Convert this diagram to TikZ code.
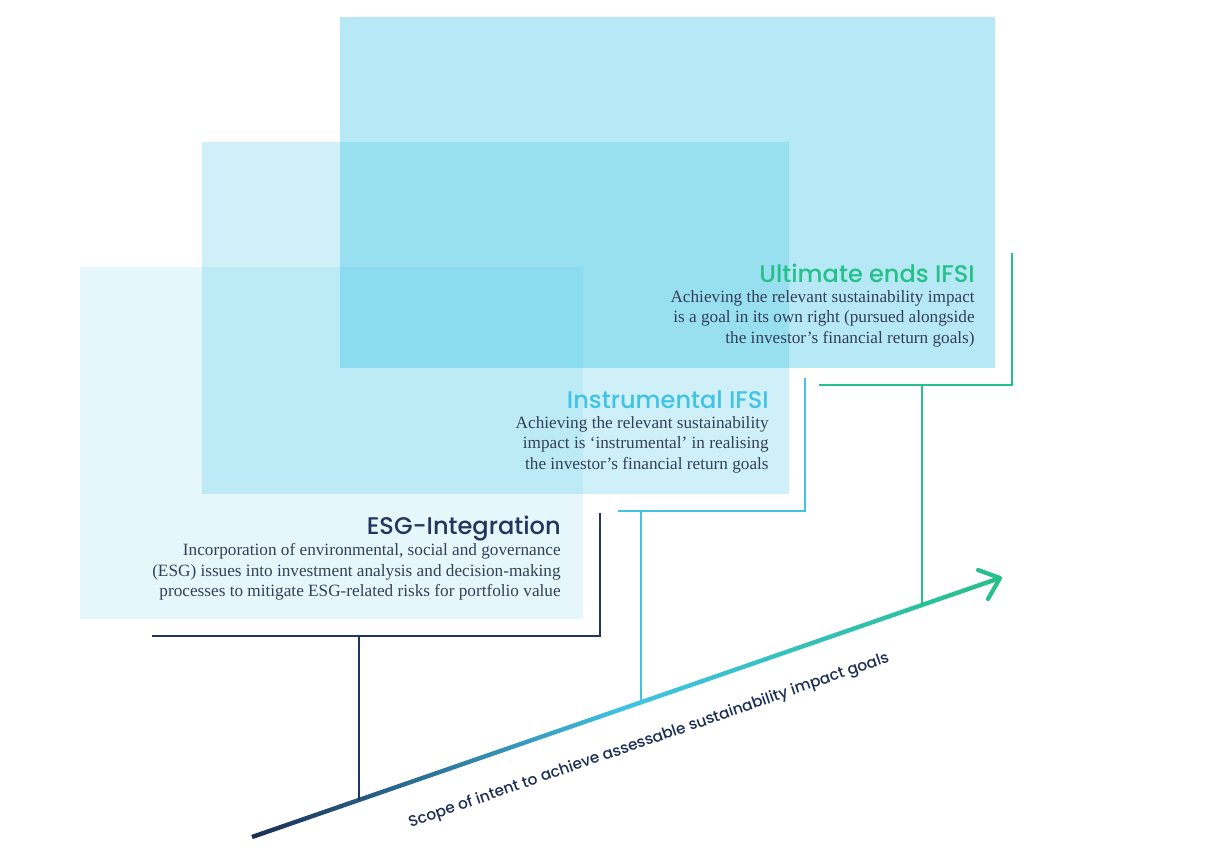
\documentclass[tikz,border=0pt]{standalone}
\usepackage{fontspec}
\setmainfont{Liberation Serif}
\newfontfamily\headfont{Poppins Medium}
\usetikzlibrary{calc}

\definecolor{boxBase}{HTML}{40C4E4}
\definecolor{esgNavy}{HTML}{21355F}
\definecolor{instrBlue}{HTML}{40C3E4}
\definecolor{ultGreen}{HTML}{26C08A}
\definecolor{bodyGray}{HTML}{333F58}
\definecolor{scopeNavy}{HTML}{1C2E55}

\tikzset{
  impactbox/.style={fill=boxBase, draw=none},
  boxtitle/.style={font=\headfont\fontsize{13.7}{16}\selectfont, inner sep=0pt},
  boxtext/.style={font=\fontsize{9.8}{11.7}\selectfont, align=right, inner sep=0pt, text=bodyGray},
  bracket/.style={line width=1.1pt},
}

\begin{document}
\begin{tikzpicture}[x=0.02cm, y=-0.02cm]
        \useasboundingbox (0,0) rectangle (1213,865);

        % Boxes
        \path[impactbox, fill opacity=0.38] (340,17) rectangle (995,368);
        \path[impactbox, fill opacity=0.25] (202,142) rectangle (789,494);
        \path[impactbox, fill opacity=0.136] (80,267) rectangle (583,619);

        % Texts
        \node[boxtitle, text=ultGreen, anchor=base east] (ultTitle) at (975,282) {Ultimate ends IFSI};
        \node[boxtext, anchor=north east] (ultText) at (975,290) {Achieving the relevant sustainability impact\\ is a goal in its own right (pursued alongside\\ the investor’s financial return goals)};

        \node[boxtitle, text=instrBlue, anchor=base east] (instrTitle) at (769,408) {Instrumental IFSI};
        \node[boxtext, anchor=north east] (instrText) at (769,416) {Achieving the relevant sustainability\\ impact is ‘instrumental’ in realising\\ the investor’s financial return goals};

        \node[boxtitle, text=esgNavy, anchor=base east] (esgTitle) at (561,534) {ESG-Integration};
        \node[boxtext, anchor=north east] (esgText) at (561,543) {Incorporation of environmental, social and governance\\ (ESG) issues into investment analysis and decision-making\\ processes to mitigate ESG-related risks for portfolio value};

        % Scope arrow
        \coordinate (scopeS) at (252,837);
        \coordinate (scopeE) at (1000,578);
        \coordinate (headUp) at (978,570);
        \coordinate (headLow) at (988,599);
        \begin{scope}[shift={(scopeS)}, rotate=19.1]
            \shade[left color=scopeNavy, right color=ultGreen, middle color=instrBlue]
                (0,-2.2) rectangle (791.6,2.2);
        \end{scope}
        \draw[ultGreen, line width=2.4pt, line cap=round, line join=round] (headUp) -- (scopeE) -- (headLow);

        \node[font=\headfont\fontsize{8.75}{10}\selectfont, text=scopeNavy, rotate=19.1] (scopeLabel) at (649,741) {Scope of intent to achieve assessable sustainability impact goals};

        % Brackets
        \coordinate (esgTop) at (600,513);
        \coordinate (esgLeft) at (152,636);
        \coordinate (esgDrop) at (359,636);
        \coordinate (esgFoot) at ($(scopeS)!0.143!(scopeE)$);
        \draw[bracket, esgNavy] (esgTop) |- (esgLeft);
        \draw[bracket, esgNavy] (esgDrop) -- (esgFoot);

        \coordinate (instrTop) at (805,378);
        \coordinate (instrLeft) at (618,511);
        \coordinate (instrDrop) at (641,511);
        \coordinate (instrFoot) at ($(scopeS)!0.52!(scopeE)$);
        \draw[bracket, instrBlue] (instrTop) |- (instrLeft);
        \draw[bracket, instrBlue] (instrDrop) -- (instrFoot);

        \coordinate (ultTop) at (1012,253);
        \coordinate (ultLeft) at (819,385);
        \coordinate (ultDrop) at (922,385);
        \coordinate (ultFoot) at ($(scopeS)!0.8957!(scopeE)$);
        \draw[bracket, ultGreen] (ultTop) |- (ultLeft);
        \draw[bracket, ultGreen] (ultDrop) -- (ultFoot);
\end{tikzpicture}
\end{document}
